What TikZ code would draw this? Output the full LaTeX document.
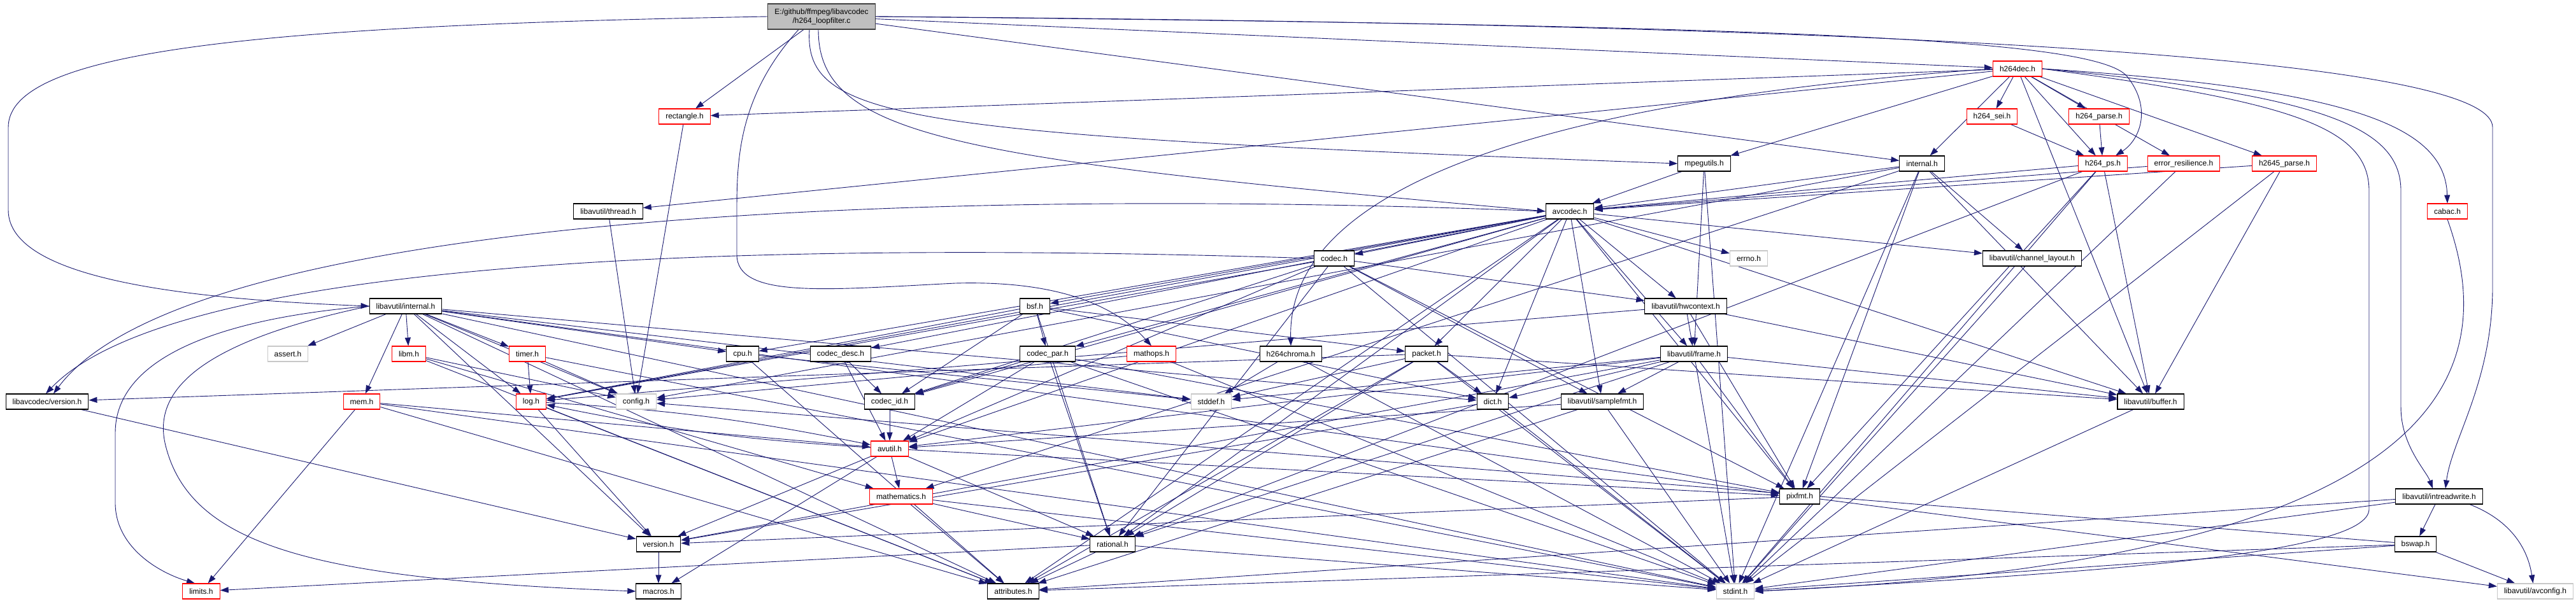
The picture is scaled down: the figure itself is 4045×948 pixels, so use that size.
\documentclass[tikz,border=0pt]{standalone}
\usepackage{fontspec}
\setmainfont{Liberation Sans}
\usetikzlibrary{arrows.meta}

\definecolor{edgeblue}{HTML}{191970}
\definecolor{rootfill}{HTML}{BFBFBF}
\definecolor{sysgray}{HTML}{C8C8C8}

\pgfdeclarelayer{bg}
\pgfsetlayers{bg,main}

\begin{document}
\begin{tikzpicture}[x=1pt, y=-1pt,
    hdr/.style={draw=black, line width=1.1pt, fill=white, font=\fontsize{12}{14}\selectfont,
        inner xsep=10.5pt, inner ysep=0pt, minimum height=24pt},
    trunc/.style={hdr, draw=red},
    sys/.style={hdr, draw=sysgray},
    dep/.style={edgeblue, line width=0.9pt, -{Triangle[length=13pt,width=9pt]}}]
    \useasboundingbox (0,0) rectangle (4045,948);

    % root file
    \node[hdr, fill=rootfill, draw=darkgray, align=center, minimum height=40pt] (loopfilter) at (1290,26)
        {E:/github/ffmpeg/libavcodec\\/h264\_loopfilter.c};

    % libavcodec headers
    \node[trunc] (h264dec) at (3168,108) {h264dec.h};
    \node[trunc] (rectangle) at (1075,183) {rectangle.h};
    \node[trunc] (h264sei) at (3128,183) {h264\_sei.h};
    \node[trunc] (h264parse) at (3296,183) {h264\_parse.h};
    \node[hdr] (mpegutils) at (2676,257) {mpegutils.h};
    \node[hdr] (internal) at (3018,257) {internal.h};
    \node[trunc] (h264ps) at (3302,257) {h264\_ps.h};
    \node[trunc] (errres) at (3429,257) {error\_resilience.h};
    \node[trunc] (h2645parse) at (3587,257) {h2645\_parse.h};
    \node[hdr] (thread) at (955,332) {libavutil/thread.h};
    \node[hdr] (avcodec) at (2465,332) {avcodec.h};
    \node[trunc] (cabac) at (3843,332) {cabac.h};
    \node[hdr] (codec) at (2095,406) {codec.h};
    \node[sys] (errno) at (2746,406) {errno.h};
    \node[hdr] (chlayout) at (3191,406) {libavutil/channel\_layout.h};
    \node[hdr] (avuinternal) at (637,481) {libavutil/internal.h};
    \node[hdr] (bsf) at (1625,481) {bsf.h};
    \node[hdr] (hwcontext) at (2647,481) {libavutil/hwcontext.h};
    \node[sys] (assert) at (452,556) {assert.h};
    \node[trunc] (libm) at (642,556) {libm.h};
    \node[trunc] (timer) at (828,556) {timer.h};
    \node[hdr] (cpu) at (1166,556) {cpu.h};
    \node[hdr] (codecdesc) at (1320,556) {codec\_desc.h};
    \node[hdr] (codecpar) at (1645,556) {codec\_par.h};
    \node[trunc] (mathops) at (1808,556) {mathops.h};
    \node[hdr] (h264chroma) at (2027,556) {h264chroma.h};
    \node[hdr] (packet) at (2240,556) {packet.h};
    \node[hdr] (frame) at (2660,556) {libavutil/frame.h};
    \node[hdr] (lcversion) at (74,631) {libavcodec/version.h};
    \node[trunc] (mem) at (568,631) {mem.h};
    \node[trunc] (log) at (834,631) {log.h};
    \node[sys] (config) at (999,631) {config.h};
    \node[hdr] (codecid) at (1397,631) {codec\_id.h};
    \node[sys] (stddef) at (1902,631) {stddef.h};
    \node[hdr] (dict) at (2344,631) {dict.h};
    \node[hdr] (samplefmt) at (2516,631) {libavutil/samplefmt.h};
    \node[hdr] (buffer) at (3377,631) {libavutil/buffer.h};
    \node[trunc] (avutil) at (1397,705) {avutil.h};
    \node[trunc] (mathematics) at (1415,780) {mathematics.h};
    \node[hdr] (pixfmt) at (2826,780) {pixfmt.h};
    \node[hdr] (intreadwrite) at (3830,780) {libavutil/intreadwrite.h};
    \node[hdr] (version) at (1034,855) {version.h};
    \node[hdr] (rational) at (1747,855) {rational.h};
    \node[hdr] (bswap) at (3793,855) {bswap.h};
    \node[trunc] (limits) at (316,929) {limits.h};
    \node[hdr] (macros) at (1034,929) {macros.h};
    \node[hdr] (attributes) at (1591,929) {attributes.h};
    \node[sys] (stdint) at (2725,929) {stdint.h};
    \node[sys] (avconfig) at (3981,929) {libavutil/avconfig.h};

    \begin{pgfonlayer}{bg}
    \fill[white] (0,0) rectangle (4045,948);

    % h264_loopfilter.c
    \draw[dep] (loopfilter.west) .. controls (400,40) and (13,80) .. (13,200) -- (13,330)
        .. controls (13,440) and (300,470) .. (avuinternal.west);
    \draw[dep] (loopfilter) -- (rectangle);
    \draw[dep] ([xshift=-36pt]loopfilter.south) .. controls (1160,150) and (1157,250) .. (1157,330)
        -- (1157,400) .. controls (1157,470) and (1300,455) .. (1500,445)
        .. controls (1680,440) and (1760,490) .. (mathops.north);
    \draw[dep] ([xshift=-19pt]loopfilter.south) .. controls (1262,190) and (1420,212) .. (mpegutils.west);
    \draw[dep] ([xshift=-5pt]loopfilter.south) .. controls (1285,215) and (1500,250) .. (avcodec.west);
    \draw[dep] (loopfilter) -- (internal);
    \draw[dep] (loopfilter) -- (h264dec);
    \draw[dep] (loopfilter.east) .. controls (2800,40) and (3290,60) .. (3340,120)
        .. controls (3380,170) and (3360,220) .. ([xshift=20pt]h264ps.north);
    \draw[dep] (loopfilter.east) .. controls (3300,40) and (3914,110) .. (3914,200) -- (3914,450)
        .. controls (3914,600) and (3850,690) .. ([xshift=10pt]intreadwrite.north);

    % h264dec.h
    \draw[dep] (h264dec) -- (thread);
    \draw[dep] (h264dec) -- (rectangle);
    \draw[dep] (h264dec.west) .. controls (2400,160) and (2021,300) .. (h264chroma.north);
    \draw[dep] (h264dec) -- (mpegutils);
    \draw[dep] (h264dec) -- (internal);
    \draw[dep] (h264dec) -- (h264sei);
    \draw[dep] (h264dec) -- (h264parse);
    \draw[dep] (h264dec) -- (h264ps);
    \draw[dep] (h264dec) -- (errres);
    \draw[dep] (h264dec) -- (h2645parse);
    \draw[dep] (h264dec.east) .. controls (3700,140) and (3840,200) .. (cabac.north);
    \draw[dep] (h264dec.east) .. controls (3650,150) and (3770,200) .. (3770,300) -- (3770,640)
        .. controls (3770,700) and (3810,740) .. ([xshift=-10pt]intreadwrite.north);
    \draw[dep] (h264dec.east) .. controls (3600,160) and (3720,200) .. (3720,300) -- (3720,800)
        .. controls (3720,870) and (3300,900) .. (stdint.east);
    \draw[dep] (h264dec) -- (buffer);

    % h264 parameter sets and friends
    \draw[dep] (h264sei) -- (h264ps);
    \draw[dep] (h264parse) -- (h264ps);
    \draw[dep] (h264ps) -- (avcodec);
    \draw[dep] (h264ps) -- (buffer);
    \draw[dep] (h264ps) -- (pixfmt);
    \draw[dep] (h264ps) -- (rational);
    \draw[dep] (h264ps) -- (stdint);
    \draw[dep] (errres) -- (avcodec);
    \draw[dep] (errres) -- (stdint);
    \draw[dep] (h2645parse) -- (avcodec);
    \draw[dep] (h2645parse) -- (buffer);
    \draw[dep] (h2645parse) -- (stdint);
    \draw[dep] (cabac.south) .. controls (3920,560) and (3890,880) .. (stdint.east);

    % internal.h and mpegutils.h
    \draw[dep] (internal) -- (avcodec);
    \draw[dep] (internal) -- (buffer);
    \draw[dep] (internal) -- (chlayout);
    \draw[dep] (internal) -- (mathematics);
    \draw[dep] (internal) -- (pixfmt);
    \draw[dep] (internal) -- (stdint);
    \draw[dep] (internal) -- (config);
    \draw[dep] (mpegutils) -- (avcodec);
    \draw[dep] (mpegutils) -- (frame);
    \draw[dep] (mpegutils) -- (stdint);

    % avcodec.h
    \draw[dep] (avcodec) -- (errno);
    \draw[dep] (avcodec) -- (samplefmt);
    \draw[dep] (avcodec) -- (attributes);
    \draw[dep] (avcodec) -- (avutil);
    \draw[dep] (avcodec) -- (buffer);
    \draw[dep] (avcodec) -- (cpu);
    \draw[dep] (avcodec) -- (chlayout);
    \draw[dep] (avcodec) -- (dict);
    \draw[dep] (avcodec) -- (frame);
    \draw[dep] (avcodec) -- (hwcontext);
    \draw[dep] (avcodec) -- (log);
    \draw[dep] (avcodec) -- (pixfmt);
    \draw[dep] (avcodec) -- (rational);
    \draw[dep] (avcodec) -- (bsf);
    \draw[dep] (avcodec) -- (codec);
    \draw[dep] (avcodec) -- (codecdesc);
    \draw[dep] (avcodec) -- (codecpar);
    \draw[dep] (avcodec) -- (codecid);
    \draw[dep] (avcodec) -- (packet);
    \draw[dep] (avcodec.west) .. controls (1500,295) and (300,330) .. ([xshift=10pt]lcversion.north);

    % codec.h, codec_desc.h, codec_id.h, codec_par.h
    \draw[dep] (codec) -- (stdint);
    \draw[dep] (codec) -- (avutil);
    \draw[dep] (codec) -- (hwcontext);
    \draw[dep] (codec) -- (log);
    \draw[dep] (codec) -- (pixfmt);
    \draw[dep] (codec) -- (rational);
    \draw[dep] (codec) -- (samplefmt);
    \draw[dep] (codec) -- (codecid);
    \draw[dep] (codec.west) .. controls (1400,385) and (300,380) .. ([xshift=-2pt]lcversion.north);
    \draw[dep] (codecdesc) -- (avutil);
    \draw[dep] (codecdesc) -- (codecid);
    \draw[dep] (codecid) -- (avutil);
    \draw[dep] (codecpar) -- (stdint);
    \draw[dep] (codecpar) -- (avutil);
    \draw[dep] (codecpar) -- (rational);
    \draw[dep] (codecpar) -- (pixfmt);
    \draw[dep] (codecpar) -- (codecid);

    % bsf.h and packet.h
    \draw[dep] (bsf) -- (dict);
    \draw[dep] (bsf) -- (log);
    \draw[dep] (bsf) -- (rational);
    \draw[dep] (bsf) -- (codecid);
    \draw[dep] (bsf) -- (codecpar);
    \draw[dep] (bsf) -- (packet);
    \draw[dep] (packet) -- (stddef);
    \draw[dep] (packet) -- (stdint);
    \draw[dep] (packet) -- (attributes);
    \draw[dep] (packet) -- (buffer);
    \draw[dep] (packet) -- (dict);
    \draw[dep] (packet) -- (rational);
    \draw[dep] (packet) -- (lcversion);
    \draw[dep] (lcversion) -- (version);
    \draw[dep] (h264chroma) -- (stdint);
    \draw[dep] (h264chroma) -- (stddef);
    \draw[dep] (mathops) -- (config);
    \draw[dep] (mathops) -- (stdint);

    % libavutil
    \draw[dep] (hwcontext) -- (buffer);
    \draw[dep] (hwcontext) -- (frame);
    \draw[dep] (hwcontext) -- (log);
    \draw[dep] (hwcontext) -- (pixfmt);
    \draw[dep] (frame) -- (stddef);
    \draw[dep] (frame) -- (stdint);
    \draw[dep] (frame) -- (avutil);
    \draw[dep] (frame) -- (buffer);
    \draw[dep] (frame) -- (dict);
    \draw[dep] (frame) -- (rational);
    \draw[dep] (frame) -- (samplefmt);
    \draw[dep] (frame) -- (pixfmt);
    \draw[dep] (frame) -- (version);
    \draw[dep] (samplefmt) -- (stdint);
    \draw[dep] (samplefmt) -- (avutil);
    \draw[dep] (samplefmt) -- (attributes);
    \draw[dep] (dict) -- (stdint);
    \draw[dep] (dict) -- (version);
    \draw[dep] (buffer) -- (stdint);
    \draw[dep] (chlayout) -- (stdint);
    \draw[dep] (avutil) -- (version);
    \draw[dep] (avutil) -- (mathematics);
    \draw[dep] (avutil) -- (rational);
    \draw[dep] (avutil) -- (macros);
    \draw[dep] (avutil) to[bend left=4] (log);
    \draw[dep] (avutil) -- (pixfmt);
    \draw[dep] (log) to[bend left=4] (avutil);
    \draw[dep] (log) -- (attributes);
    \draw[dep] (log) -- (version);
    \draw[dep] (mathematics) -- (stdint);
    \draw[dep] (mathematics) -- (attributes);
    \draw[dep] (mathematics) -- (rational);
    \draw[dep] (rational) -- (stdint);
    \draw[dep] (rational) -- (limits);
    \draw[dep] (rational) -- (attributes);
    \draw[dep] (pixfmt) -- (avconfig);
    \draw[dep] (pixfmt) -- (version);
    \draw[dep] (version) -- (macros);
    \draw[dep] (intreadwrite) -- (stdint);
    \draw[dep] (intreadwrite) to[bend left=30] (avconfig);
    \draw[dep] (intreadwrite) -- (attributes);
    \draw[dep] (intreadwrite) -- (bswap);
    \draw[dep] (bswap) -- (stdint);
    \draw[dep] (bswap) -- (avconfig);
    \draw[dep] (bswap) -- (attributes);
    \draw[dep] (bswap) -- (config);
    \draw[dep] (mem) -- (limits);
    \draw[dep] (mem) -- (stdint);
    \draw[dep] (mem) -- (attributes);
    \draw[dep] (mem) -- (avutil);
    \draw[dep] (cpu) -- (attributes);
    \draw[dep] (cpu) -- (stddef);
    \draw[dep] (thread) -- (config);
    \draw[dep] (rectangle) -- (config);
    \draw[dep] (libm) -- (config);
    \draw[dep] (libm) -- (attributes);
    \draw[dep] (libm) -- (mathematics);
    \draw[dep] (timer) -- (config);
    \draw[dep] (timer) -- (log);
    \draw[dep] (timer) -- (stdint);

    % libavutil/internal.h
    \draw[dep] (avuinternal.west) .. controls (350,500) and (181,560) .. (181,680) -- (181,790)
        .. controls (181,860) and (250,900) .. ([xshift=-10pt]limits.north);
    \draw[dep] (avuinternal) -- (stdint);
    \draw[dep] (avuinternal) -- (stddef);
    \draw[dep] (avuinternal) -- (assert);
    \draw[dep] (avuinternal) -- (config);
    \draw[dep] (avuinternal) -- (attributes);
    \draw[dep] (avuinternal) -- (timer);
    \draw[dep] (avuinternal) -- (cpu);
    \draw[dep] (avuinternal) -- (dict);
    \draw[dep] (avuinternal.west) .. controls (300,540) and (240,620) .. (260,700)
        .. controls (300,860) and (500,910) .. (macros.west);
    \draw[dep] (avuinternal) -- (mem);
    \draw[dep] (avuinternal) -- (pixfmt);
    \draw[dep] (avuinternal) -- (version);
    \draw[dep] (avuinternal) -- (libm);
    \draw[dep] (avuinternal) -- (log);
    \end{pgfonlayer}
\end{tikzpicture}
\end{document}
